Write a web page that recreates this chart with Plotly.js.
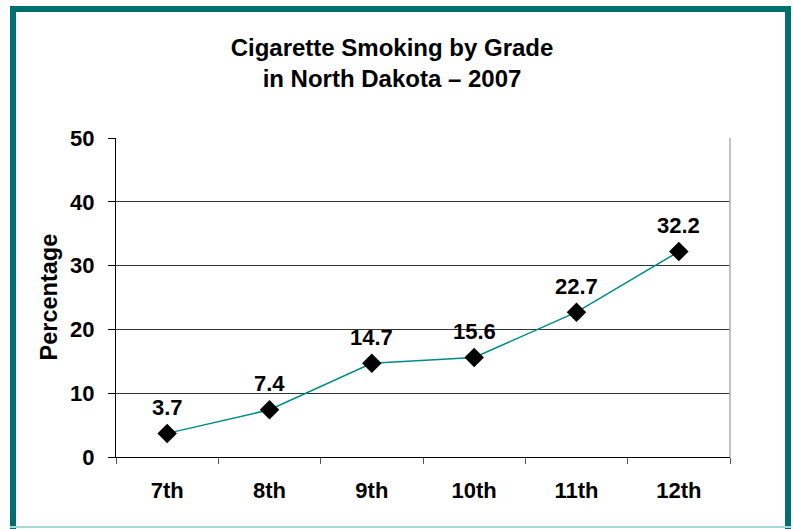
<!DOCTYPE html>
<html>
<head>
<meta charset="utf-8">
<script src="https://cdn.plot.ly/plotly-3.0.1.min.js"></script>
<style>
html,body{margin:0;padding:0;background:#fff;}
#wrap{position:relative;width:793px;height:529px;overflow:hidden;}
#chart{position:absolute;left:0;top:0;width:793px;height:529px;}
.bar{position:absolute;background:#006f6f;}
</style>
</head>
<body>
<div id="wrap">
<div id="chart"></div>
<div class="bar" style="left:10px;top:6px;width:781px;height:6px;"></div>
<div class="bar" style="left:10px;top:6px;width:6px;height:523px;"></div>
<div class="bar" style="left:785px;top:6px;width:6px;height:523px;"></div>
<div style="position:absolute;left:10px;top:526px;width:781px;height:2px;background:#a6d6d6;"></div>
</div>
<script>
var grades = ["7th", "8th", "9th", "10th", "11th", "12th"];
var percentages = [3.7, 7.4, 14.7, 15.6, 22.7, 32.2];
var labels = ["3.7", "7.4", "14.7", "15.6", "22.7", "32.2"];
var yTicks = [0, 10, 20, 30, 40, 50];

var font = "Liberation Sans, Arial, sans-serif";

var trace = {
  x: grades,
  y: percentages,
  type: "scatter",
  mode: "lines+markers",
  line: {color: "#008b8b", width: 1.5},
  marker: {symbol: "diamond", size: 15, color: "#000000"},
  hoverinfo: "skip"
};

var annotations = grades.map(function(g, i){
  return {x: g, y: percentages[i], xref: "x", yref: "y", text: "<b>" + labels[i] + "</b>",
    showarrow: false, yshift: 26, font: {family: font, size: 22, color: "#000"}};
});

var layout = {
  width: 793, height: 529,
  margin: {l: 116, r: 63, t: 138, b: 72, autoexpand: false},
  paper_bgcolor: "rgba(0,0,0,0)",
  plot_bgcolor: "#ffffff",
  showlegend: false,
  title: {
    text: "<b>Cigarette Smoking by Grade<br>in North Dakota – 2007</b>",
    font: {family: font, size: 24, color: "#000"},
    x: 392 / 793, xref: "container", xanchor: "center",
    y: 1 - 56 / 529, yref: "container", yanchor: "top"
  },
  xaxis: {
    type: "category",
    range: [-0.5, 5.5],
    automargin: false,
    showgrid: false,
    showline: true, linecolor: "#000", linewidth: 1,
    ticks: "outside", tickson: "boundaries", ticklen: 6, tickcolor: "#555",
    tickvals: grades,
    ticktext: grades.map(function(g){return "<b>" + g + "</b>";}),
    tickfont: {family: font, size: 22, color: "#000"},
    ticklabelstandoff: 14,
    zeroline: false,
    fixedrange: true
  },
  yaxis: {
    range: [0, 50],
    automargin: false,
    tickvals: yTicks,
    ticktext: yTicks.map(function(v){return "<b>" + v + "</b>";}),
    showgrid: true, gridcolor: "#333", gridwidth: 1,
    showline: true, linecolor: "#000", linewidth: 1,
    ticks: "outside", ticklen: 7, tickcolor: "#000",
    tickfont: {family: font, size: 22, color: "#000"},
    ticklabelstandoff: 9,
    zeroline: false,
    fixedrange: true
  },
  shapes: [
    {type: "line", xref: "paper", yref: "paper", x0: 1, x1: 1, y0: 0, y1: 1,
     line: {color: "#b0b0b0", width: 1.5}}
  ],
  annotations: annotations.concat([
    {text: "<b>Percentage</b>", xref: "paper", yref: "paper", x: (48 - 116) / 614, y: 0.5,
     xanchor: "center", yanchor: "middle", textangle: -90, showarrow: false,
     font: {family: font, size: 23.5, color: "#000"}}
  ])
};

Plotly.newPlot("chart", [trace], layout, {displayModeBar: false, staticPlot: true});
</script>
</body>
</html>
